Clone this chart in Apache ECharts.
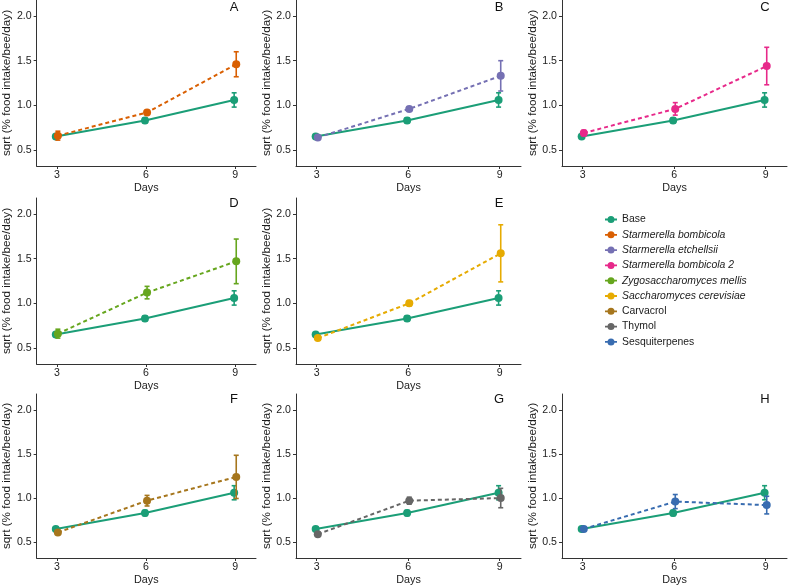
<!DOCTYPE html>
<html>
<head>
<meta charset="utf-8">
<script src="https://cdn.jsdelivr.net/npm/echarts@6/dist/echarts.min.js"></script>
<style>html,body{margin:0;padding:0;background:#fff}#c{width:788px;height:587px}</style>
</head>
<body>
<div id="c"></div>
<script>
// ---- data ----
const days = [3, 6, 9];
const yTicks = [0.5, 1.0, 1.5, 2.0];
const baseName = 'Base';
const baseMean = [0.65, 0.83, 1.06];
const baseSE   = [0.02, 0.03, 0.08];

const treatNames = ['Starmerella bombicola', 'Starmerella etchellsii', 'Starmerella bombicola 2',
  'Zygosaccharomyces mellis', 'Saccharomyces cerevisiae', 'Carvacrol', 'Thymol', 'Sesquiterpenes'];
const panelLetters = ['A', 'B', 'C', 'D', 'E', 'F', 'G', 'H'];

const sbMean   = [0.66, 0.92, 1.46];  const sbSE   = [0.05, 0.02, 0.14];
const setMean  = [0.64, 0.96, 1.33];  const setSE  = [0.02, 0.02, 0.17];
const sb2Mean  = [0.69, 0.96, 1.44];  const sb2SE  = [0.03, 0.07, 0.21];
const zmMean   = [0.66, 1.12, 1.47];  const zmSE   = [0.05, 0.07, 0.25];
const scMean   = [0.61, 1.00, 1.56];  const scSE   = [0.02, 0.03, 0.32];
const carMean  = [0.61, 0.97, 1.24];  const carSE  = [0.02, 0.06, 0.245];
const thyMean  = [0.59, 0.97, 1.00];  const thySE  = [0.02, 0.04, 0.11];
const sesMean  = [0.65, 0.96, 0.92];  const sesSE  = [0.02, 0.08, 0.10];

const treatMeans = [sbMean, setMean, sb2Mean, zmMean, scMean, carMean, thyMean, sesMean];
const treatSEs   = [sbSE, setSE, sb2SE, zmSE, scSE, carSE, thySE, sesSE];

// ---- style ----
const baseColor = '#1B9E77';
const treatColors = ['#D95F02', '#7570B3', '#E7298A', '#66A61E', '#E6AB02', '#A6761D', '#666666', '#386CB0'];
const italicNames = new Set(treatNames.slice(0, 5));
const dodge = 0.035;
const FONT = 'Liberation Sans';
const axisColor = '#333333';

// panel grid positions
const gridPos = [
  [31, 0], [296, 0], [562, 0],
  [31, 198], [296, 198],
  [31, 394], [296, 394], [562, 394]
];
const letterY = [7, 7, 7, 203, 203, 399, 399, 399];
const GW = 225, GH = 166;

const grids = [], xAxes = [], yAxes = [], series = [], graphics = [];

function errRender(color) {
  return function (params, api) {
    const x = api.value(0), lo = api.value(1), hi = api.value(2);
    const pLo = api.coord([x, lo]);
    const pHi = api.coord([x, hi]);
    const hw = 2.5;
    const st = { stroke: color, lineWidth: 1.6 };
    return {
      type: 'group',
      children: [
        { type: 'line', shape: { x1: pLo[0], y1: pLo[1], x2: pHi[0], y2: pHi[1] }, style: st },
        { type: 'line', shape: { x1: pLo[0] - hw, y1: pLo[1], x2: pLo[0] + hw, y2: pLo[1] }, style: st },
        { type: 'line', shape: { x1: pHi[0] - hw, y1: pHi[1], x2: pHi[0] + hw, y2: pHi[1] }, style: st }
      ]
    };
  };
}

function addGroup(idx, name, means, ses, color, dashed, dx) {
  const errData = days.map((d, i) => [d + dx, means[i] - ses[i], means[i] + ses[i]]);
  series.push({
    type: 'custom', name: name, xAxisIndex: idx, yAxisIndex: idx,
    renderItem: errRender(color), data: errData, silent: true,
    encode: { x: 0, y: [1, 2] }, z: dashed ? 4 : 2
  });
  series.push({
    type: 'line', name: name, xAxisIndex: idx, yAxisIndex: idx,
    data: days.map((d, i) => [d + dx, means[i]]),
    symbol: 'circle', symbolSize: 8, showSymbol: true,
    lineStyle: { color: color, width: 2, type: dashed ? [4, 3] : 'solid' },
    itemStyle: { color: color },
    z: dashed ? 5 : 3, animation: false
  });
}

for (let p = 0; p < 8; p++) {
  const [l, t] = gridPos[p];
  grids.push({ left: l, top: t, width: GW, height: GH, containLabel: false });
  xAxes.push({
    type: 'value', gridIndex: p, min: 2.32, max: 9.7,
    name: 'Days', nameLocation: 'middle', nameGap: 17,
    nameTextStyle: { fontFamily: FONT, fontSize: 10.8, color: '#1a1a1a' },
    splitLine: { show: false },
    axisLine: { show: true, lineStyle: { color: axisColor, width: 1 } },
    axisTick: { show: true, length: 3, lineStyle: { color: axisColor }, customValues: days },
    axisLabel: { fontFamily: FONT, fontSize: 10.6, color: '#222', margin: 4, customValues: days, formatter: v => String(v) }
  });
  yAxes.push({
    type: 'value', gridIndex: p, min: 0.32, max: 2.18,
    name: 'sqrt (% food intake/bee/day)', nameLocation: 'middle', nameGap: 21, nameRotate: 90,
    nameTextStyle: { fontFamily: FONT, fontSize: 11.7, color: '#1a1a1a' },
    splitLine: { show: false },
    axisLine: { show: true, lineStyle: { color: axisColor, width: 1 } },
    axisTick: { show: true, length: 3, lineStyle: { color: axisColor }, customValues: yTicks },
    axisLabel: { fontFamily: FONT, fontSize: 10.6, color: '#222', margin: 5, customValues: yTicks, formatter: v => v.toFixed(1) }
  });
  addGroup(p, baseName, baseMean, baseSE, baseColor, false, -dodge);
  addGroup(p, treatNames[p], treatMeans[p], treatSEs[p], treatColors[p], true, dodge);
  graphics.push({
    type: 'text', x: l + 203, y: letterY[p],
    style: { text: panelLetters[p], fontFamily: FONT, fontSize: 13, fill: '#111', textAlign: 'center', textVerticalAlign: 'middle' }
  });
}

const legendIcon = 'path://M0,2.6 L2.6,2.6 L2.6,4.4 L0,4.4 Z M9.4,2.6 L12,2.6 L12,4.4 L9.4,4.4 Z M2.5,3.5 A3.5,3.5 0 1,1 9.5,3.5 A3.5,3.5 0 1,1 2.5,3.5 Z';
const legendNames = [baseName].concat(treatNames);
const legendColors = [baseColor].concat(treatColors);

const option = {
  animation: false,
  textStyle: { fontFamily: FONT },
  grid: grids, xAxis: xAxes, yAxis: yAxes, series: series,
  graphic: graphics,
  legend: {
    orient: 'vertical', left: 600, top: 208,
    itemWidth: 12, itemHeight: 7, itemGap: 2.3,
    data: legendNames.map((n, i) => ({ name: n, icon: legendIcon, itemStyle: { color: legendColors[i] } })),
    formatter: n => italicNames.has(n) ? '{i|' + n + '}' : n,
    textStyle: {
      fontFamily: FONT, fontSize: 10.4, color: '#1a1a1a', lineHeight: 13,
      rich: { i: { fontFamily: FONT, fontSize: 10.4, fontStyle: 'italic', color: '#1a1a1a', lineHeight: 13 } }
    }
  }
};

const chart = echarts.init(document.getElementById('c'), null, { renderer: 'canvas' });
chart.setOption(option);
</script>
</body>
</html>
